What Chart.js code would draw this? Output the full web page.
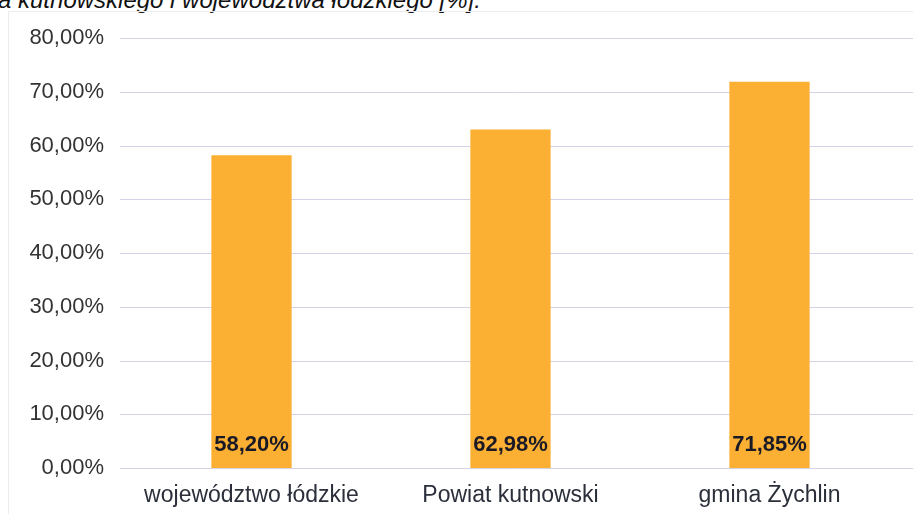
<!DOCTYPE html>
<html>
<head>
<meta charset="utf-8">
<script src="https://cdn.jsdelivr.net/npm/chart.js@4/dist/chart.umd.min.js"></script>
<style>
  html, body { margin:0; padding:0; background:#fff; overflow:hidden; }
  #wrap { position:relative; width:913px; height:514px; overflow:hidden; background:#fff; }
  #title { position:absolute; left:-2px; top:-14px; font-family:"Liberation Sans", Arial, sans-serif; font-style:italic; font-size:24px; color:#111; white-space:nowrap; }
  #frame { position:absolute; left:8px; top:11px; width:930px; height:600px; border:1px solid #ececec; }
  canvas { position:absolute; left:0; top:0; }
</style>
</head>
<body>
<div id="wrap">
  <div id="title">a kutnowskiego i województwa łódzkiego [%].</div>
  <div id="frame"></div>
  <canvas id="c" width="913" height="514"></canvas>
</div>
<script>
const categories = ["województwo łódzkie", "Powiat kutnowski", "gmina Żychlin"];
const values = [58.20, 62.98, 71.85];
const valueLabels = ["58,20%", "62,98%", "71,85%"];
const yTicks = [0, 10, 20, 30, 40, 50, 60, 70, 80];

function fmt(v) { return v.toFixed(2).replace('.', ',') + '%'; }

const gridPlugin = {
  id: 'extGrid',
  beforeDatasetsDraw(chart) {
    const ctx = chart.ctx;
    const ys = chart.scales.y;
    ctx.save();
    ctx.strokeStyle = '#d6cfe6';
    ctx.lineWidth = 1;
    ys.ticks.forEach(t => {
      const y = Math.round(ys.getPixelForValue(t.value)) + 0.5;
      ctx.beginPath();
      ctx.moveTo(chart.chartArea.left - 2, y);
      ctx.lineTo(chart.width, y);
      ctx.stroke();
    });
    ctx.restore();
  }
};

const valueLabelPlugin = {
  id: 'valueLabels',
  afterDatasetsDraw(chart) {
    const ctx = chart.ctx;
    const meta = chart.getDatasetMeta(0);
    const y0 = chart.scales.y.getPixelForValue(0);
    ctx.save();
    ctx.font = 'bold 22px "Liberation Sans", Arial, sans-serif';
    ctx.fillStyle = '#1a1a26';
    ctx.textAlign = 'center';
    ctx.textBaseline = 'middle';
    meta.data.forEach((bar, i) => {
      ctx.fillText(valueLabels[i], bar.x, y0 - 23);
    });
    ctx.restore();
  }
};

new Chart(document.getElementById('c'), {
  type: 'bar',
  data: {
    labels: categories,
    datasets: [{
      data: values,
      backgroundColor: '#FBB034',
      borderWidth: 0,
      categoryPercentage: 1.0,
      barPercentage: 0.31
    }]
  },
  options: {
    responsive: false,
    animation: false,
    layout: { padding: { top: 38, right: 14, left: 0, bottom: 0 } },
    plugins: { legend: { display: false }, tooltip: { enabled: false } },
    scales: {
      x: {
        grid: { display: false },
        border: { display: false },
        ticks: {
          color: '#2a2f3a',
          font: { family: '"Liberation Sans", Arial, sans-serif', size: 23 },
          padding: 6
        },
        afterFit(scale) { scale.height = 46; }
      },
      y: {
        min: 0, max: 80,
        afterBuildTicks(scale) { scale.ticks = yTicks.map(v => ({ value: v })); },
        grid: { display: false, drawTicks: false },
        border: { display: false },
        ticks: {
          color: '#333',
          font: { family: '"Liberation Sans", Arial, sans-serif', size: 22 },
          padding: 18,
          callback: (v) => fmt(v)
        },
        afterFit(scale) { scale.width = 122; }
      }
    }
  },
  plugins: [gridPlugin, valueLabelPlugin]
});
</script>
</body>
</html>
